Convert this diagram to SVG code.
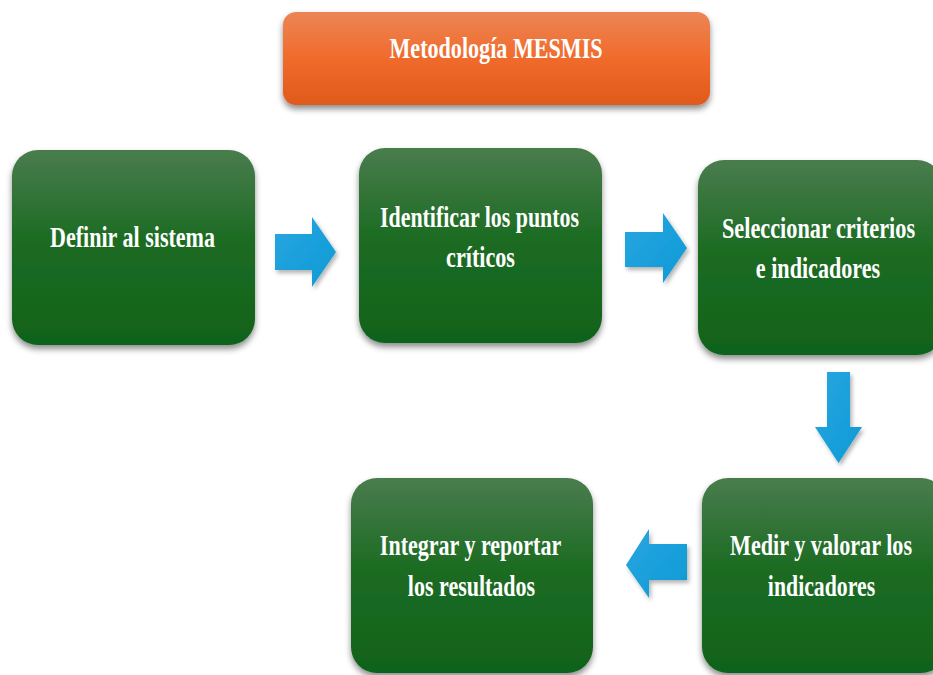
<svg xmlns="http://www.w3.org/2000/svg" width="933" height="675" viewBox="0 0 933 675">
<defs>
<linearGradient id="gGreen" x1="0" y1="0" x2="0" y2="1">
<stop offset="0" stop-color="#4a7c4e"/>
<stop offset="0.45" stop-color="#1d6c24"/>
<stop offset="1" stop-color="#10621a"/>
</linearGradient>
<linearGradient id="gOrange" x1="0" y1="0" x2="0" y2="1">
<stop offset="0" stop-color="#ec8555"/>
<stop offset="0.5" stop-color="#f06b2b"/>
<stop offset="1" stop-color="#e05a1b"/>
</linearGradient>
<linearGradient id="gBlue" x1="0" y1="0" x2="1" y2="1">
<stop offset="0" stop-color="#2aa6e0"/>
<stop offset="1" stop-color="#0c9ad6"/>
</linearGradient>
<filter id="sh" x="-10%" y="-10%" width="120%" height="125%">
<feDropShadow dx="0" dy="4" stdDeviation="3" flood-color="#000" flood-opacity="0.45"/>
</filter>
<filter id="ash" x="-20%" y="-20%" width="150%" height="150%">
<feDropShadow dx="2" dy="3" stdDeviation="2" flood-color="#000" flood-opacity="0.3"/>
</filter>
</defs>
<style>
.box{fill:url(#gGreen);filter:url(#sh);}
.t{font-family:"Liberation Serif","Times New Roman",serif;font-weight:bold;font-size:30px;fill:#fff;text-anchor:middle;}
.arr{fill:url(#gBlue);filter:url(#ash);}
</style>
<rect width="933" height="675" fill="#fff"/>
<g id="title">
<rect x="283" y="12" width="427" height="93" rx="13" fill="url(#gOrange)" filter="url(#sh)"/>
<text class="t" transform="translate(496,58) scale(0.74,1)" x="0" y="0" textLength="288" lengthAdjust="spacingAndGlyphs">Metodología MESMIS</text>
</g>
<g id="n1">
<rect class="box" x="12" y="150" width="243" height="195" rx="26"/>
<text class="t" transform="translate(132.5,247) scale(0.74,1)" x="0" y="0" textLength="223" lengthAdjust="spacingAndGlyphs">Definir al sistema</text>
</g>
<g id="n2">
<rect class="box" x="359" y="148" width="243" height="195" rx="26"/>
<text class="t" transform="translate(479.5,227) scale(0.74,1)" x="0" y="0" textLength="269" lengthAdjust="spacingAndGlyphs">Identificar los puntos</text>
<text class="t" transform="translate(480.5,267) scale(0.74,1)" x="0" y="0" textLength="93" lengthAdjust="spacingAndGlyphs">críticos</text>
</g>
<g id="n3">
<rect class="box" x="698" y="160" width="245" height="195" rx="26"/>
<text class="t" transform="translate(818.5,238) scale(0.74,1)" x="0" y="0" textLength="261" lengthAdjust="spacingAndGlyphs">Seleccionar criterios</text>
<text class="t" transform="translate(818,278) scale(0.74,1)" x="0" y="0" textLength="168" lengthAdjust="spacingAndGlyphs">e indicadores</text>
</g>
<g id="n4">
<rect class="box" x="702" y="478" width="245" height="195" rx="26"/>
<text class="t" transform="translate(821,555) scale(0.74,1)" x="0" y="0" textLength="246" lengthAdjust="spacingAndGlyphs">Medir y valorar los</text>
<text class="t" transform="translate(821.5,596) scale(0.74,1)" x="0" y="0" textLength="145" lengthAdjust="spacingAndGlyphs">indicadores</text>
</g>
<g id="n5">
<rect class="box" x="351" y="478" width="242" height="195" rx="26"/>
<text class="t" transform="translate(470.5,555) scale(0.74,1)" x="0" y="0" textLength="245" lengthAdjust="spacingAndGlyphs">Integrar y reportar</text>
<text class="t" transform="translate(471.5,596) scale(0.74,1)" x="0" y="0" textLength="172" lengthAdjust="spacingAndGlyphs">los resultados</text>
</g>
<g id="connectors">
<polygon class="arr" points="275,234 312,234 312,217 336,252 312,287 312,270 275,270"/>
<polygon class="arr" points="625,232 663,232 663,213 687,248 663,283 663,267 625,267"/>
<polygon class="arr" points="827,372 850,372 850,427 862,427 838.5,463 815,427 827,427"/>
<polygon class="arr" points="687,544 649,544 649,529 626,565 649,598 649,580 687,580"/>
</g>
</svg>
